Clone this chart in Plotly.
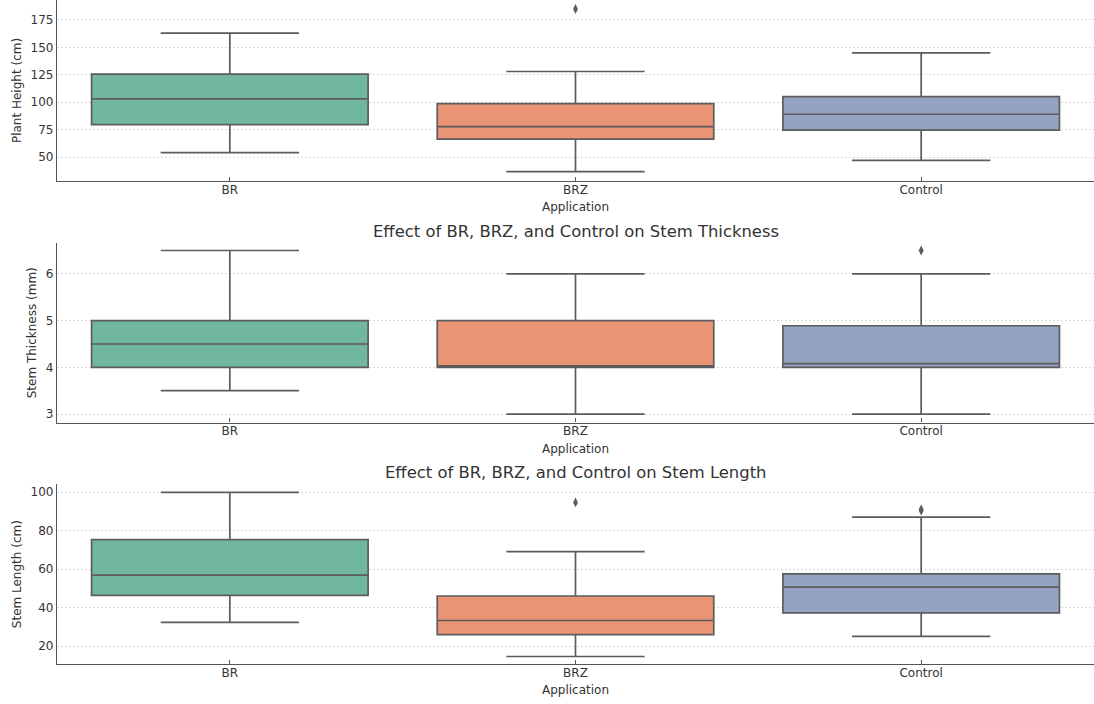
import plotly.graph_objects as go

categories = ["BR", "BRZ", "Control"]

# Plant Height (cm)
height_lower = [54.0, 36.6, 47.0]
height_q1 = [79.6, 66.3, 74.6]
height_median = [103.0, 77.7, 89.0]
height_q3 = [125.5, 98.7, 105.0]
height_upper = [163.0, 128.0, 145.0]
height_out_x = ["BRZ"]
height_out_y = [185.0]

# Stem Thickness (mm)
thick_lower = [3.5, 3.0, 3.0]
thick_q1 = [4.0, 4.0, 4.0]
thick_median = [4.5, 4.03, 4.08]
thick_q3 = [5.0, 5.0, 4.89]
thick_upper = [6.5, 6.0, 6.0]
thick_out_x = ["Control"]
thick_out_y = [6.5]

# Stem Length (cm)
length_lower = [32.3, 14.6, 25.0]
length_q1 = [46.3, 26.0, 37.2]
length_median = [56.8, 33.3, 50.6]
length_q3 = [75.3, 46.0, 57.5]
length_upper = [99.8, 69.0, 87.0]
length_out_x = ["BRZ", "Control", "Control"]
length_out_y = [94.6, 90.3, 91.0]

colors = ["#71b6a1", "#e99575", "#95a3c3"]
edge = "#5c5c5c"
text_color = "#333333"
font_family = "DejaVu Sans"

panels = [
    dict(lower=height_lower, q1=height_q1, med=height_median, q3=height_q3, upper=height_upper,
         ox=height_out_x, oy=height_out_y, ytitle="Plant Height (cm)", title=None,
         yrange=[28.1, 193.2], ticks=[50, 75, 100, 125, 150, 175], domain=[0.7274, 1.0]),
    dict(lower=thick_lower, q1=thick_q1, med=thick_median, q3=thick_q3, upper=thick_upper,
         ox=thick_out_x, oy=thick_out_y, ytitle="Stem Thickness (mm)",
         title="Effect of BR, BRZ, and Control on Stem Thickness",
         yrange=[2.82, 6.66], ticks=[3, 4, 5, 6], domain=[0.3637, 0.634]),
    dict(lower=length_lower, q1=length_q1, med=length_median, q3=length_q3, upper=length_upper,
         ox=length_out_x, oy=length_out_y, ytitle="Stem Length (cm)",
         title="Effect of BR, BRZ, and Control on Stem Length",
         yrange=[10.7, 104.0], ticks=[20, 40, 60, 80, 100], domain=[0.0, 0.2706]),
]

fig = go.Figure()
layout = dict(
    width=1094, height=704,
    margin=dict(l=57, r=0, t=0, b=40),
    plot_bgcolor="white", paper_bgcolor="white",
    showlegend=False,
    font=dict(family=font_family, size=12, color=text_color),
    boxmode="overlay",
)
annotations = []

for i, p in enumerate(panels):
    n = i + 1
    xa = "x" if n == 1 else f"x{n}"
    ya = "y" if n == 1 else f"y{n}"
    for j, cat in enumerate(categories):
        fig.add_trace(go.Box(
            x=[cat], q1=[p["q1"][j]], median=[p["med"][j]], q3=[p["q3"][j]],
            lowerfence=[p["lower"][j]], upperfence=[p["upper"][j]],
            fillcolor=colors[j], line=dict(color=edge, width=1.7),
            width=0.8, whiskerwidth=0.5, boxpoints=False,
            xaxis=xa, yaxis=ya, hoverinfo="skip",
        ))
    fig.add_trace(go.Scatter(
        x=p["ox"], y=p["oy"], mode="markers",
        marker=dict(symbol="diamond-tall", size=7, color=edge, line=dict(width=0)),
        xaxis=xa, yaxis=ya, hoverinfo="skip",
    ))
    xkey = "xaxis" if n == 1 else f"xaxis{n}"
    ykey = "yaxis" if n == 1 else f"yaxis{n}"
    layout[xkey] = dict(
        domain=[0, 1], anchor=ya, type="category",
        categoryorder="array", categoryarray=categories,
        range=[-0.5, 2.5], showgrid=False, zeroline=False,
        showline=True, linecolor="#555555", linewidth=1.3,
        ticks="inside", ticklen=4, tickcolor="#555555", tickwidth=1,
        ticklabelstandoff=-3,
        tickfont=dict(size=12, color=text_color),
        title=dict(text="Application", font=dict(size=12, color=text_color), standoff=7),
    )
    layout[ykey] = dict(
        domain=p["domain"], anchor=xa, range=p["yrange"],
        tickvals=p["ticks"], showgrid=True, gridcolor="#d9d9d9", gridwidth=0.8,
        griddash="2px,2px", zeroline=False,
        showline=True, linecolor="#555555", linewidth=1.3, ticks="",
        tickfont=dict(size=12, color=text_color),
        title=dict(text=p["ytitle"], font=dict(size=12, color=text_color), standoff=6),
    )
    if p["title"]:
        annotations.append(dict(
            text=p["title"], xref="paper", yref="paper", x=0.5, y=p["domain"][1],
            yshift=0, xanchor="center", yanchor="bottom", showarrow=False,
            font=dict(size=16.4, color=text_color, family=font_family),
        ))

layout["annotations"] = annotations
fig.update_layout(**layout)
fig.write_html("out.html")
